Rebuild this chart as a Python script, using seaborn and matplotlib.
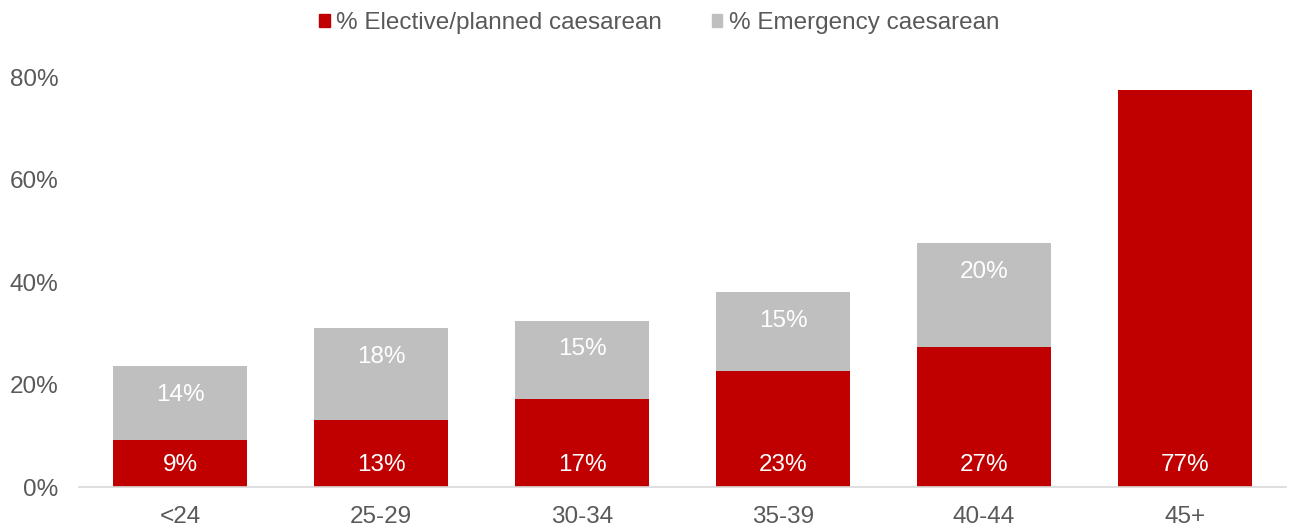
import matplotlib
matplotlib.use("Agg")
import matplotlib.pyplot as plt
import matplotlib.patches as mpatches
import seaborn as sns
import pandas as pd

# Caesarean rates by maternal age group (%)
age_groups = ["<24", "25-29", "30-34", "35-39", "40-44", "45+"]
elective = [9.2, 13.0, 17.1, 22.7, 27.4, 77.4]
emergency = [14.4, 18.0, 15.3, 15.3, 20.2, 0.0]
y_ticks = [0, 20, 40, 60, 80]

RED = "#C00000"
GREY = "#BFBFBF"
TEXT = "#595959"
FS = 17.5

sns.set_theme(style="white")
plt.rcParams["font.family"] = ["Liberation Sans", "DejaVu Sans"]

df = pd.DataFrame({"age": age_groups, "elective": elective, "emergency": emergency})
df["total"] = df["elective"] + df["emergency"]

fig = plt.figure(figsize=(12.92, 5.26), dpi=100)
ax = fig.add_axes([0.0615, 0.0741, 0.9335, 0.7795])

# Stacked bars: full height in grey, elective share in red over it
sns.barplot(data=df, x="age", y="total", color=GREY, width=0.667,
            saturation=1, linewidth=0, ax=ax)
sns.barplot(data=df, x="age", y="elective", color=RED, width=0.667,
            saturation=1, linewidth=0, ax=ax)

# Value labels: elective near the base, emergency near the top of its segment
for i, row in df.iterrows():
    ax.annotate(f"{row['elective']:.0f}%", xy=(i, 0), xytext=(0, 16),
                textcoords="offset points", ha="center", va="center",
                color="white", fontsize=FS)
    if row["emergency"] > 0:
        ax.annotate(f"{row['emergency']:.0f}%", xy=(i, row["total"]),
                    xytext=(0, -20.5), textcoords="offset points",
                    ha="center", va="center", color="white", fontsize=FS)

ax.set_xlim(-0.5, 5.5)
ax.set_ylim(0, 80)
ax.set_yticks(y_ticks)
ax.set_yticklabels([f"{t}%" for t in y_ticks])
ax.set_xlabel("")
ax.set_ylabel("")
ax.tick_params(axis="both", colors=TEXT, labelsize=FS, length=0)
ax.tick_params(axis="y", pad=15)
ax.tick_params(axis="x", pad=14)

for side in ["top", "right", "left"]:
    ax.spines[side].set_visible(False)
ax.spines["bottom"].set_color("#D9D9D9")
ax.spines["bottom"].set_linewidth(1.2)

handles = [mpatches.Patch(color=RED, label="% Elective/planned caesarean"),
           mpatches.Patch(color=GREY, label="% Emergency caesarean")]
leg = fig.legend(handles=handles, loc="center", bbox_to_anchor=(0.510, 0.956),
                 ncol=2, frameon=False, fontsize=FS, handlelength=0.45,
                 handleheight=0.45, handletextpad=0.25, columnspacing=2.05)
for t in leg.get_texts():
    t.set_color(TEXT)

fig.savefig("out.png", dpi=100, facecolor="white")
